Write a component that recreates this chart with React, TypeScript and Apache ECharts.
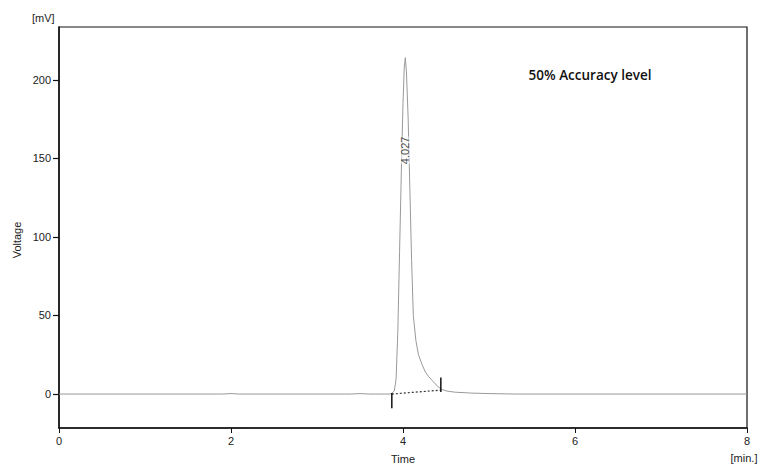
import React, { useEffect, useRef } from "react";
import * as echarts from "echarts";

// Chromatogram trace (time in min, signal in mV)
const traceTime = [0, 1.9, 2.0, 2.1, 3.4, 3.5, 3.6, 3.85, 3.87, 3.9, 3.92, 3.94, 3.96, 3.98, 4.0, 4.015, 4.027, 4.04, 4.06, 4.08, 4.1, 4.12, 4.15, 4.18, 4.22, 4.26, 4.3, 4.35, 4.4, 4.45, 4.5, 4.6, 4.8, 5.0, 5.3, 6.0, 8.0];
const traceSignal = [0, 0, 0.3, 0, 0, 0.3, 0, 0, 0.5, 2, 10, 40, 90, 140, 185, 208, 214, 205, 175, 130, 85, 50, 34, 25, 19, 14, 11, 8, 5, 3, 2, 1.2, 0.6, 0.3, 0, 0, 0];

// Integration baseline and its start/end markers
const baselineTime = [3.87, 4.44];
const baselineSignal = [0, 2.5];
const startMarkerSignal = [0.6, -9];
const endMarkerSignal = [1.3, 10.5];

// Peak annotation
const peakLabel = "4.027";
const peakLabelPos = [4.02, 155];

const yTicks = [0, 50, 100, 150, 200];

const textColor = "#222";
const font = "'Liberation Sans', Arial, sans-serif";

export default function App() {
  const ref = useRef<HTMLDivElement>(null);
  useEffect(() => {
    const chart = echarts.init(ref.current!, null, { renderer: "svg" });
    const baseGraphic = [
      { id: "unit", type: "text", left: 32, top: 12, style: { text: "[mV]", fill: textColor, fontSize: 11, fontFamily: font } },
      {
        id: "yname",
        type: "text",
        x: 17,
        y: 240,
        rotation: Math.PI / 2,
        style: { text: "Voltage", fill: textColor, fontSize: 11, fontFamily: font, align: "center", verticalAlign: "middle" },
      },
      { id: "xname", type: "text", x: 403, y: 459, style: { text: "Time", fill: textColor, fontSize: 11, fontFamily: font, align: "center", verticalAlign: "middle" } },
      { id: "xunit", type: "text", x: 744, y: 458, style: { text: "[min.]", fill: textColor, fontSize: 11, fontFamily: font, align: "center", verticalAlign: "middle" } },
      {
        id: "title",
        type: "text",
        x: 590,
        y: 75,
        style: { text: "50% Accuracy level", fill: "#111", fontSize: 13.5, fontWeight: 600, fontFamily: "'Open Sans', sans-serif", align: "center", verticalAlign: "middle" },
      },
    ];
    const option: any = {
      animation: false,
      backgroundColor: "#fff",
      grid: {
        left: 59,
        right: 13,
        top: 27,
        bottom: 39,
        show: true,
        borderColor: "#111",
        borderWidth: 1.2,
        backgroundColor: "transparent",
      },
      xAxis: {
        type: "value",
        min: 0,
        max: 8,
        interval: 2,
        axisLine: { show: true, onZero: false, lineStyle: { color: "#111", width: 1.5 } },
        axisTick: { show: true, length: 5, lineStyle: { color: "#111" } },
        axisLabel: { color: textColor, fontSize: 11, fontFamily: font, margin: 7 },
        splitLine: { show: false },
      },
      yAxis: {
        type: "value",
        min: -21.6,
        max: 233.5,
        axisLine: { show: true, onZero: false, lineStyle: { color: "#111", width: 1.5 } },
        axisTick: { show: false },
        axisLabel: { color: textColor, fontSize: 11, fontFamily: font, margin: 8, customValues: yTicks },
        splitLine: { show: false },
      },
      graphic: baseGraphic,
      series: [
        {
          type: "line",
          data: traceTime.map((t, i) => [t, traceSignal[i]]),
          showSymbol: false,
          lineStyle: { color: "#999", width: 1 },
          z: 3,
        },
        {
          type: "line",
          data: baselineTime.map((t, i) => [t, baselineSignal[i]]),
          showSymbol: false,
          lineStyle: { color: "#333", width: 1.2, type: [2, 2] },
          z: 4,
        },
        {
          type: "line",
          data: startMarkerSignal.map((s) => [baselineTime[0], s]),
          showSymbol: false,
          lineStyle: { color: "#111", width: 1.5 },
          z: 5,
        },
        {
          type: "line",
          data: endMarkerSignal.map((s) => [baselineTime[1], s]),
          showSymbol: false,
          lineStyle: { color: "#111", width: 1.5 },
          z: 5,
        },
        {
          type: "scatter",
          data: [peakLabelPos],
          symbolSize: 0,
          label: {
            show: true,
            position: "inside",
            formatter: peakLabel,
            rotate: 90,
            color: "#222",
            fontSize: 11,
            fontFamily: font,
            backgroundColor: "rgba(255,255,255,0.6)",
          },
          z: 6,
        },
      ],
    };
    chart.setOption(option);
    // y-axis tick marks placed through the axis scale
    const tickEls = yTicks.map((v) => {
      const p = chart.convertToPixel({ xAxisIndex: 0, yAxisIndex: 0 } as any, [0, v]) as number[];
      const px = p[0];
      const y = Math.round(p[1]) + 0.5;
      return {
        id: "ytick" + v,
        type: "line",
        shape: { x1: px - 6, y1: y, x2: px, y2: y },
        style: { stroke: "#111", lineWidth: 1.2 },
        z: 100,
      };
    });
    chart.setOption({ graphic: [...baseGraphic, ...tickEls] });
    return () => chart.dispose();
  }, []);
  return <div ref={ref} style={{ position: "fixed", left: 0, top: 0, width: 760, height: 467 }} />;
}
